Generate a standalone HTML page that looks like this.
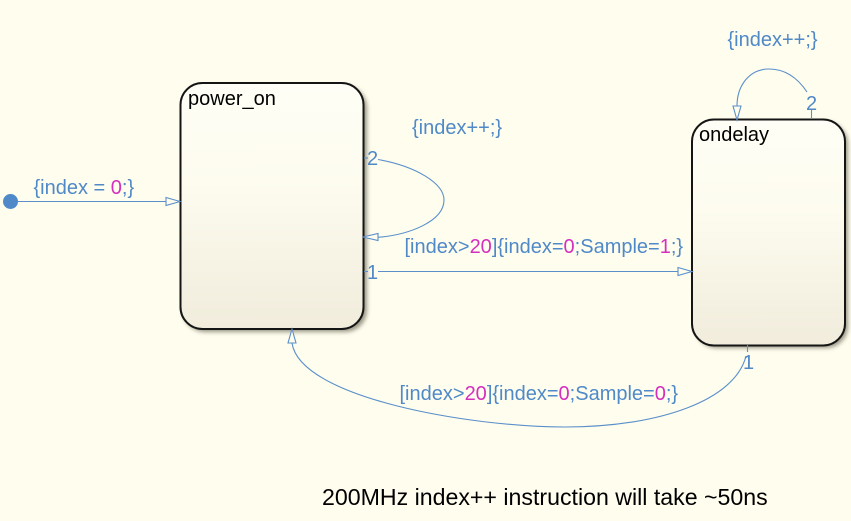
<!DOCTYPE html>
<html>
<head>
<meta charset="utf-8">
<style>
html,body{margin:0;padding:0;background:#fffdee;}
svg{display:block;}
text{font-family:"Liberation Sans",sans-serif;}
.t{font-size:20px;fill:#4f89c8;}
.m{fill:#d42fbf;}
.k{fill:#000;}
.l{fill:none;stroke:#5a8fca;stroke-width:1.1;}
.a{fill:#fffdee;stroke:#5a8fca;stroke-width:1.1;}
</style>
</head>
<body>
<svg width="851" height="521" viewBox="0 0 851 521" xmlns="http://www.w3.org/2000/svg">
<defs>
<linearGradient id="g" x1="0" y1="0" x2="0" y2="1">
<stop offset="0" stop-color="#fffef6"/>
<stop offset="0.4" stop-color="#fdfcef"/>
<stop offset="1" stop-color="#f1ecdc"/>
</linearGradient>
<filter id="s" x="-10%" y="-10%" width="125%" height="125%">
<feGaussianBlur stdDeviation="2"/>
</filter>
</defs>
<rect width="851" height="521" fill="#fffdee"/>

<rect x="183" y="86" width="184" height="246" rx="22" fill="#6e6a58" opacity="0.7" filter="url(#s)"/>
<rect x="180.500" y="83" width="183" height="246" rx="22" fill="url(#g)" stroke="#151515" stroke-width="2"/>
<rect x="695" y="122" width="153" height="226" rx="22" fill="#6e6a58" opacity="0.7" filter="url(#s)"/>
<rect x="692" y="119.500" width="153" height="226" rx="22" fill="url(#g)" stroke="#151515" stroke-width="2"/>

<text class="k" x="188" y="105" font-size="20">power_on</text>
<text class="k" x="699" y="141" font-size="20">ondelay</text>

<circle cx="10.500" cy="201.500" r="7.500" fill="#4f89c8"/>
<path class="l" d="M17 201.500H167"/>
<path class="a" d="M166 197.500L180 201.500L166 205.500Z"/>

<path class="l" d="M364 158H368"/>
<path class="l" d="M378 159.500C415 166 444 183 444 200C444 221 410 235 376 237.500"/>
<path class="a" d="M363 237L378 233.500L378 240.500Z"/>

<path class="l" d="M364 271.500H368"/>
<path class="l" d="M378 271.500H679"/>
<path class="a" d="M678 267.500L692 271.500L678 275.500Z"/>

<path class="l" d="M747.500 345V352"/>
<path class="l" d="M746 356C735 400 660 427 565 427C470 427 300 398 292 343"/>
<path class="a" d="M292 329L288 343L296 343Z"/>

<path class="l" d="M811.500 119V110"/>
<path class="l" d="M807 92C797 77 785 69 769 69C749 69 737 86 737 106"/>
<path class="a" d="M737 120L733 106L741 106Z"/>

<text class="t" x="33.500" y="194">{index = <tspan class="m">0</tspan>;}</text>
<text class="t" x="412" y="134">{index++;}</text>
<text class="t" x="727.500" y="46">{index++;}</text>
<text class="t" x="404.500" y="253">[index&gt;<tspan class="m">20</tspan>]{index=<tspan class="m">0</tspan>;Sample=<tspan class="m">1</tspan>;}</text>
<text class="t" x="399.500" y="400">[index&gt;<tspan class="m">20</tspan>]{index=<tspan class="m">0</tspan>;Sample=<tspan class="m">0</tspan>;}</text>
<text class="t" x="367" y="165">2</text>
<text class="t" x="367" y="279">1</text>
<text class="t" x="806" y="110">2</text>
<text class="t" x="743" y="369">1</text>

<text class="k" x="322" y="505" font-size="23.150">200MHz index++ instruction will take ~50ns</text>
</svg>
</body>
</html>
